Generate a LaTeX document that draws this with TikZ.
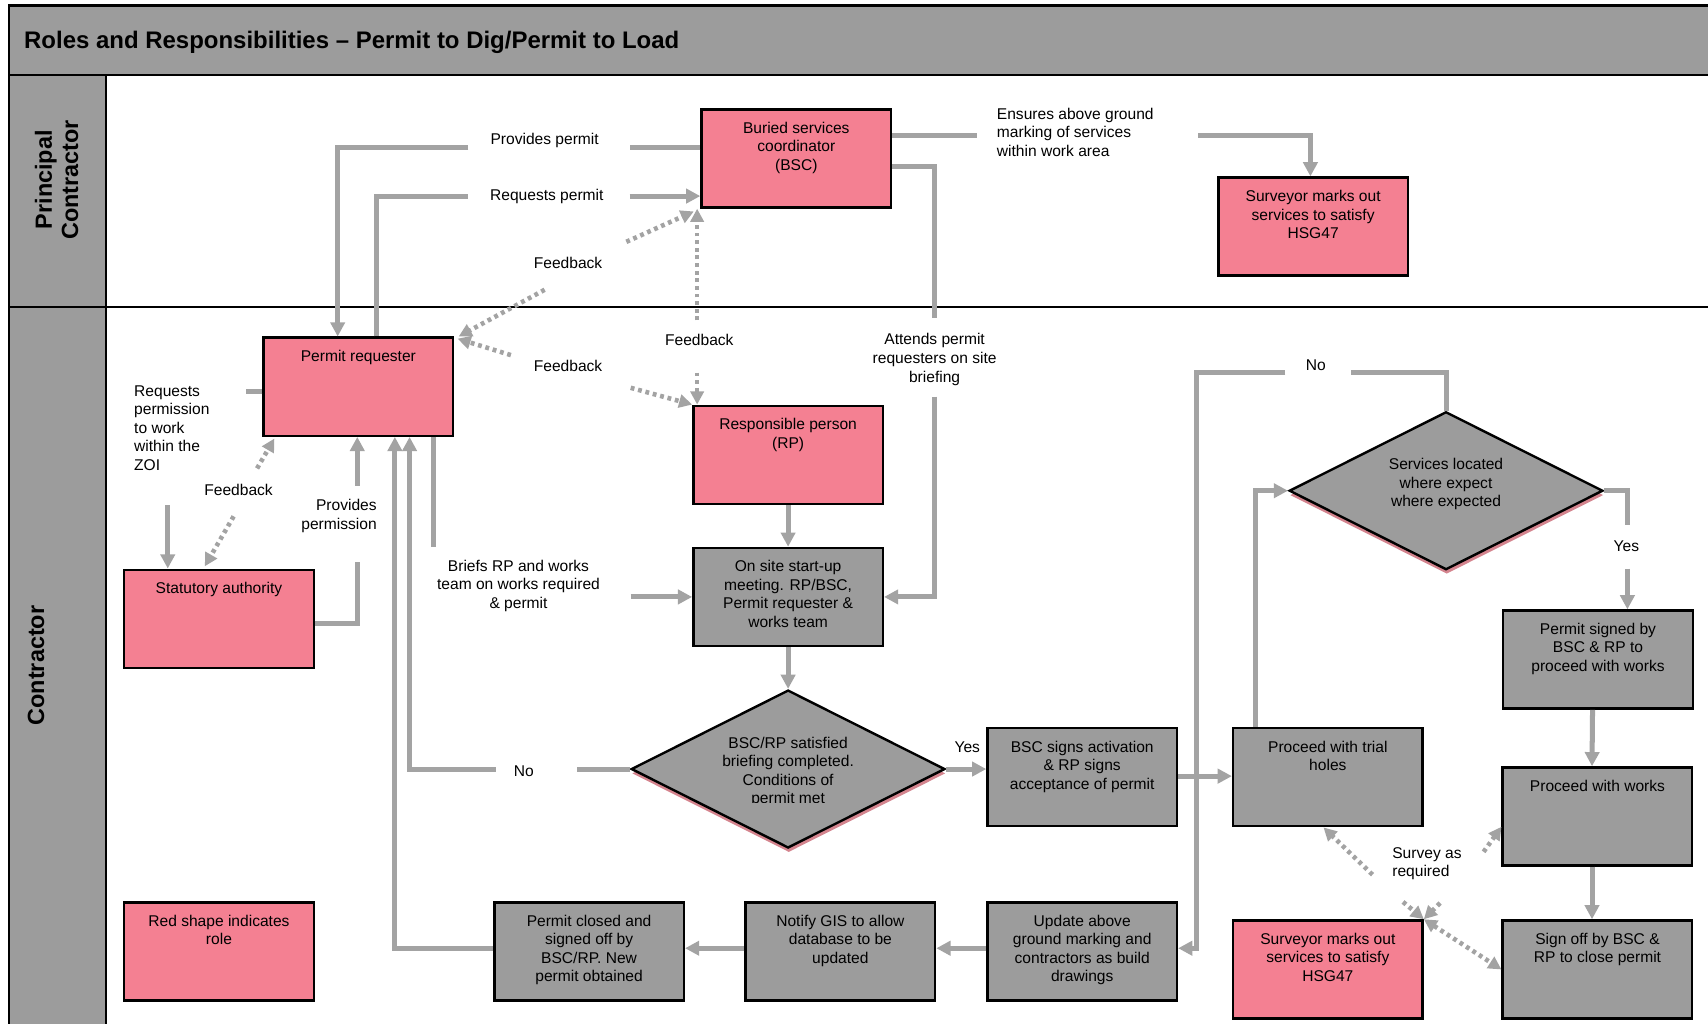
\documentclass[tikz,border=0pt]{standalone}
\usepackage{fontspec}
\setmainfont{Liberation Sans}
\usetikzlibrary{arrows.meta,shapes.geometric,shadows}
\definecolor{pinkc}{RGB}{244,128,146}
\definecolor{boxgray}{RGB}{156,156,156}
\definecolor{linec}{RGB}{163,163,163}
\definecolor{shadc}{RGB}{212,132,142}
\newcommand{\boxfont}{\fontsize{14.3}{17}\selectfont}
\newcommand{\titlefont}{\bfseries\fontsize{22}{26}\selectfont}
\newcommand{\lanefont}{\bfseries\fontsize{21.5}{24}\selectfont}
\begin{document}
\begin{tikzpicture}[x=1pt,y=-1pt,
  bx/.style={draw=black,line width=2.2pt,minimum width=174pt,minimum height=90pt,inner sep=0pt},
  pk/.style={bx,fill=pinkc},
  gy/.style={bx,fill=boxgray},
  tt/.style={label={[anchor=north,yshift=-12.5pt,align=center,inner sep=0pt,font=\boxfont,text=black]north:{#1}}},
  dm/.style={diamond,draw=black,line width=2.2pt,fill=boxgray,minimum width=288pt,minimum height=145pt,inner sep=0pt,
     drop shadow={shadow xshift=0.6pt,shadow yshift=-4pt,fill=shadc,opacity=1}},
  lbl/.style={font=\boxfont,align=center,inner sep=0pt},
  conn/.style={draw=linec,line width=4.6pt},
  arr/.style={conn,-{Triangle[length=13pt,width=13pt]}},
  dt/.style={draw=linec,line width=4.2pt,dash pattern=on 3.5pt off 3.5pt},
  dtarr/.style={dt,-{Triangle[length=12pt,width=12pt]}},
  dtboth/.style={dt,{Triangle[length=12pt,width=12pt]}-{Triangle[length=12pt,width=12pt]}},
]
\useasboundingbox (0,0) rectangle (1568,940);
\clip (0,0) rectangle (1568,940);
\fill[white] (0,0) rectangle (1568,940);
% frame
\fill[boxgray] (8,5) rectangle (1580,69);
\fill[boxgray] (8,69) rectangle (97,950);
\draw[black,line width=2pt] (1580,5) -- (8,5) -- (8,950);
\draw[black,line width=2pt] (8,69) -- (1580,69);
\draw[black,line width=2pt] (97,69) -- (97,950);
\draw[black,line width=1.5pt] (8,282) -- (1580,282);
\node[font=\titlefont,anchor=west,inner sep=0pt] (title) at (22,39) {Roles and Responsibilities – Permit to Dig/Permit to Load};
\node[rotate=90,font=\lanefont,align=center,inner sep=0pt] (lanePC) at (52,165) {Principal\\Contractor};
\node[rotate=90,font=\lanefont,inner sep=0pt] (laneC) at (33,611) {Contractor};

% boxes
\node[pk,tt={Buried services\\coordinator\\(BSC)}] (BSC) at (731,145.5) {};
\node[pk,tt={Surveyor marks out\\services to satisfy\\HSG47}] (SurvTop) at (1205.5,208) {};
\node[pk,tt={Permit requester}] (PR) at (329,355) {};
\node[pk,tt={Responsible person\\(RP)}] (RP) at (723.5,417.5) {};
\node[pk,tt={Statutory authority}] (SA) at (201,568) {};
\node[gy,tt={On site start-up\\meeting. RP/BSC,\\Permit requester \&\\works team}] (OnSite) at (723.5,548) {};
\node[dm] (D1) at (723.5,706) {};
\node[gy,tt={BSC signs activation\\\& RP signs\\acceptance of permit}] (BSCsign) at (993.5,713.5) {};
\node[gy,tt={Proceed with trial\\holes}] (Trial) at (1219,713.5) {};
\node[dm] (D2) at (1327.5,450.5) {};
\node[gy,tt={Permit signed by\\BSC \& RP to\\proceed with works}] (PSigned) at (1467,605.5) {};
\node[gy,tt={Proceed with works}] (Works) at (1466.5,749.5) {};
\node[gy,tt={Sign off by BSC \&\\RP to close permit}] (SignOff) at (1466.5,890) {};
\node[pk,tt={Surveyor marks out\\services to satisfy\\HSG47}] (SurvBot) at (1219,890) {};
\node[gy,tt={Update above\\ground marking and\\contractors as build\\drawings}] (Update) at (993.5,873.5) {};
\node[gy,tt={Notify GIS to allow\\database to be\\updated}] (Notify) at (771.5,873.5) {};
\node[gy,tt={Permit closed and\\signed off by\\BSC/RP. New\\permit obtained}] (Closed) at (540.8,873.5) {};
\node[pk,tt={Red shape indicates\\role}] (Red) at (201,873.5) {};

\begin{scope}
\clip (560,620) rectangle (890,737);
\node[lbl] (D1t) at (723.5,708.5) {BSC/RP satisfied\\briefing completed.\\Conditions of\\permit met};
\end{scope}
\node[lbl] (D2t) at (1327.5,444.5) {Services located\\where expect\\where expected};

% labels
\node[lbl] (lProv) at (500,129) {Provides permit};
\node[lbl] (lReq) at (502,180.5) {Requests permit};
\node[lbl] (lFb1) at (521.5,241.5) {Feedback};
\node[lbl] (lFb2) at (642,312.5) {Feedback};
\node[lbl] (lFb3) at (521.5,336) {Feedback};
\node[lbl,align=left,anchor=west] (lEns) at (915,121.5) {Ensures above ground\\marking of services\\within work area};
\node[lbl] (lAtt) at (858,330) {Attends permit\\requesters on site\\briefing};
\node[lbl] (lBrief) at (476,537.5) {Briefs RP and works\\team on works required\\\& permit};
\node[lbl,align=left,anchor=west] (lZoi) at (123,393) {Requests\\permission\\to work\\within the\\ZOI};
\node[lbl] (lFb4) at (219,450) {Feedback};
\node[lbl,align=right,anchor=east] (lPerm) at (346,473.5) {Provides\\permission};
\node[lbl] (lNo1) at (481,708) {No};
\node[lbl] (lYes1) at (888,686) {Yes};
\node[lbl] (lNo2) at (1208,335) {No};
\node[lbl] (lYes2) at (1493,501) {Yes};
\node[lbl,align=left,anchor=west] (lSurv) at (1278,793) {Survey as\\required};

% coordinates
\coordinate (c1) at (578,135); \coordinate (c2) at (430,135);
\coordinate (c3) at (430,180); \coordinate (c4) at (578,180);
\coordinate (f1) at (500,266); \coordinate (f2) at (575,222);
\coordinate (f3) at (640,294); \coordinate (f4) at (640,342);
\coordinate (f5) at (469,326); \coordinate (f6) at (579,356);
\coordinate (e1) at (897,124.5); \coordinate (e2) at (1100,124.5);
\coordinate (a1) at (858,152.5); \coordinate (a2) at (858,292); \coordinate (a3) at (858,364);
\coordinate (b1) at (398,502); \coordinate (b2) at (579,548);
\coordinate (r1) at (226,359.5); \coordinate (r2) at (154,464);
\coordinate (f7) at (236,430); \coordinate (f8) at (214.5,474);
\coordinate (p1) at (328,516); \coordinate (p2) at (328,446);
\coordinate (n1) at (530,706); \coordinate (n2) at (455,706);
\coordinate (l1) at (1240,342); \coordinate (l2) at (1180,342); \coordinate (l3) at (1098,870.5);
\coordinate (y1) at (1494,482); \coordinate (y2) at (1494,522);
\coordinate (s1) at (1260,803); \coordinate (s2) at (1288,828);
\coordinate (s3) at (1322,829); \coordinate (s4) at (1362,782);

% connectors
\draw[conn] (BSC.west |- c1) -- (c1);
\draw[arr] (c2) -| ([xshift=-19pt]PR.north);
\draw[conn] ([xshift=17pt]PR.north) |- (c3);
\draw[arr] (c4) -- (BSC.west |- c4);
\draw[dtarr] (f1) -- ([xshift=4pt]PR.north east);
\draw[dtarr] (f2) -- ([xshift=-6pt,yshift=-2.5pt]BSC.south west);
\draw[dtarr] (f3) -- (f3 |- BSC.south);
\draw[dtarr] (f4) -- (f4 |- RP.north);
\draw[dtarr] (f5) -- ([xshift=3pt,yshift=-2pt]PR.north east);
\draw[dtarr] (f6) -- (RP.north west);
\draw[conn] (BSC.east |- e1) -- (e1);
\draw[arr] (e2) -| ([xshift=-2.5pt]SurvTop.north);
\draw[conn] (BSC.east |- a1) -| (a2);
\draw[arr] (a3) |- (OnSite.east);
\draw[arr] (RP.south) -- (OnSite.north);
\draw[conn] (b1 |- PR.south) -- (b1);
\draw[arr] (b2) -- (OnSite.west);
\draw[conn] (PR.west |- r1) -- (r1);
\draw[arr] (r2) -- (r2 |- SA.north);
\draw[dtarr] (f7) -- ([xshift=11pt,yshift=-1.5pt]PR.south west);
\draw[dtarr] (f8) -- ([xshift=-13pt,yshift=2pt]SA.north);
\draw[conn] ([yshift=-4pt]SA.east) -| (p1);
\draw[arr] (p2) -- (p2 |- PR.south);
\draw[arr] (OnSite.south) -- (D1.north);
\draw[conn] (D1.west) -- (n1);
\draw[arr] (n2) -| ([xshift=47pt]PR.south);
\draw[arr] ([yshift=3pt]Closed.west) -| ([xshift=33.5pt]PR.south);
\draw[arr] (D1.east) -- (D1.east -| BSCsign.west);
\draw[arr] ([yshift=1pt]BSCsign.east) -- ([yshift=1pt]Trial.west);
\draw[conn] (D2.north) |- (l1);
\draw[arr] (l2) -| (l3) -- (l3 -| Update.east);
\draw[arr] ([xshift=-66pt]Trial.north) |- (D2.west);
\draw[conn] (D2.east) -| (y1);
\draw[arr] (y2) -- (y2 |- PSigned.north);
\draw[arr] ([xshift=-5pt]PSigned.south) -- ([xshift=-5pt]Works.north);
\draw[arr] ([xshift=-5pt]Works.south) -- ([xshift=-5pt]SignOff.north);
\draw[arr] ([yshift=3pt]Update.west) -- ([yshift=3pt]Notify.east);
\draw[arr] ([yshift=3pt]Notify.west) -- ([yshift=3pt]Closed.east);
\draw[dtarr] (s1) -- ([xshift=-4pt]Trial.south);
\draw[dtarr] (s2) -- (SurvBot.north east);
\draw[dtarr] (s3) -- (SurvBot.north east);
\draw[dtarr] (s4) -- ([yshift=-9.5pt]Works.west);
\draw[dtboth] (SurvBot.north east) -- (SignOff.west);
\end{tikzpicture}
\end{document}
